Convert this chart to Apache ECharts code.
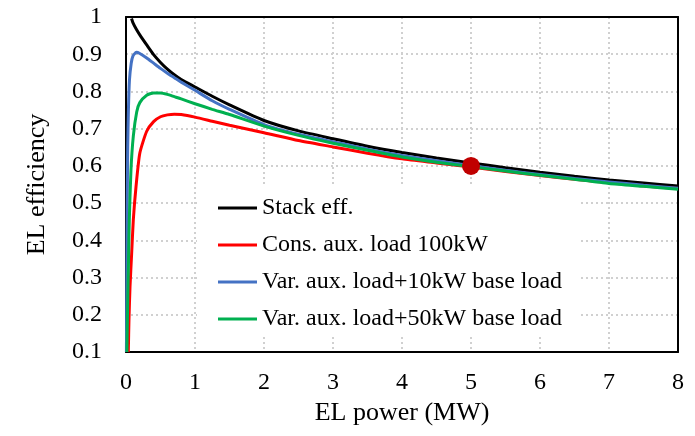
<!DOCTYPE html>
<html>
<head>
<meta charset="utf-8">
<script src="https://cdn.jsdelivr.net/npm/echarts@6/dist/echarts.min.js"></script>
<style>
  html, body { margin: 0; padding: 0; background: #fff; }
  #chart { width: 695px; height: 436px; }
</style>
</head>
<body>
<div id="chart"></div>
<script>
// Electrolyser efficiency versus electrical power (MW)
const seriesNames = [
  'Stack eff.',
  'Cons. aux. load 100kW',
  'Var. aux. load+10kW base load',
  'Var. aux. load+50kW base load'
];

// Stack efficiency
const stackP   = [0.08, 0.1, 0.15, 0.2, 0.3, 0.4, 0.5, 0.6, 0.7, 0.8, 1, 1.25, 1.5, 2, 2.5, 3, 3.5, 4, 4.5, 5, 5.5, 6, 6.5, 7, 7.5, 8];
const stackEff = [0.996, 0.985, 0.967, 0.952, 0.925, 0.899, 0.878, 0.86, 0.845, 0.832, 0.812, 0.787, 0.764, 0.722, 0.694, 0.673, 0.653, 0.636, 0.621, 0.608, 0.595, 0.583, 0.572, 0.562, 0.554, 0.546];

// Constant auxiliary load of 100 kW
const consP   = [0.032, 0.034, 0.043, 0.058, 0.082, 0.106, 0.145, 0.2, 0.3, 0.4, 0.5, 0.6, 0.7, 0.8, 1, 1.25, 1.5, 2, 2.5, 3, 3.5, 4, 4.5, 5, 5.5, 6, 6.5, 7, 7.5, 8];
const consEff = [0.1, 0.105, 0.186, 0.275, 0.365, 0.455, 0.544, 0.634, 0.693, 0.719, 0.732, 0.737, 0.739, 0.738, 0.731, 0.72, 0.709, 0.689, 0.668, 0.651, 0.634, 0.619, 0.608, 0.597, 0.585, 0.574, 0.564, 0.555, 0.546, 0.539];

// Variable auxiliary load + 10 kW base load
const var10P   = [0.006, 0.012, 0.018, 0.025, 0.035, 0.05, 0.075, 0.1, 0.15, 0.2, 0.3, 0.4, 0.5, 0.6, 0.7, 0.8, 1, 1.25, 1.5, 2, 2.5, 3, 3.5, 4, 4.5, 5, 5.5, 6, 6.5, 7, 7.5, 8];
const var10Eff = [0.1, 0.3, 0.5, 0.65, 0.75, 0.83, 0.875, 0.895, 0.905, 0.902, 0.89, 0.876, 0.862, 0.849, 0.837, 0.825, 0.803, 0.775, 0.752, 0.711, 0.685, 0.665, 0.645, 0.628, 0.614, 0.601, 0.588, 0.577, 0.566, 0.557, 0.548, 0.54];

// Variable auxiliary load + 50 kW base load
const var50P   = [0.013, 0.02, 0.034, 0.048, 0.072, 0.106, 0.155, 0.2, 0.3, 0.4, 0.5, 0.6, 0.7, 0.8, 1, 1.25, 1.5, 2, 2.5, 3, 3.5, 4, 4.5, 5, 5.5, 6, 6.5, 7, 7.5, 8];
const var50Eff = [0.1, 0.186, 0.32, 0.455, 0.589, 0.68, 0.745, 0.77, 0.79, 0.796, 0.796, 0.792, 0.786, 0.78, 0.767, 0.752, 0.738, 0.707, 0.682, 0.661, 0.642, 0.624, 0.61, 0.598, 0.586, 0.575, 0.564, 0.553, 0.545, 0.537];

// Highlighted operating point
const markerP = [5];
const markerEff = [0.6];

const colors = ['#000000', '#FF0000', '#4472C4', '#00B050'];
const FONT = '"Liberation Serif", "Times New Roman", serif';

const zip = (xs, ys) => xs.map((x, i) => [x, ys[i]]);
const curves = [
  zip(stackP, stackEff),
  zip(consP, consEff),
  zip(var10P, var10Eff),
  zip(var50P, var50Eff)
];

const chart = echarts.init(document.getElementById('chart'), null, { renderer: 'canvas' });

const lineSeries = curves.map((data, i) => ({
  name: seriesNames[i],
  type: 'line',
  data: data,
  showSymbol: false,
  smooth: 0.2,
  lineStyle: { color: colors[i], width: 3 },
  itemStyle: { color: colors[i] },
  z: 2 + i,
  animation: false
}));

const gridLine = { show: true, lineStyle: { color: '#d0d0d0', width: 2, type: [2, 3] } };
const frameLine = { show: true, onZero: false, lineStyle: { color: '#000', width: 2 } };

chart.setOption({
  animation: false,
  grid: { left: 126, right: 17, top: 17, bottom: 84 },
  legend: {
    data: seriesNames,
    orient: 'vertical',
    left: 197, top: 185,
    padding: [9, 17, 4, 21],
    backgroundColor: '#ffffff',
    itemGap: 9,
    itemWidth: 39,
    itemHeight: 3,
    icon: 'rect',
    textStyle: { fontFamily: FONT, fontSize: 24, color: '#000', lineHeight: 28 },
    selectedMode: false,
    z: 10
  },
  xAxis: [{
    type: 'value',
    min: 0, max: 8, interval: 1,
    name: 'EL power (MW)',
    nameLocation: 'middle',
    nameGap: 44,
    nameTextStyle: { fontFamily: FONT, fontSize: 26, color: '#000' },
    axisLine: frameLine,
    axisTick: { show: false },
    axisLabel: { fontFamily: FONT, fontSize: 24, color: '#000', margin: 19 },
    splitLine: gridLine
  }, {
    // top frame edge
    type: 'value', position: 'top',
    min: 0, max: 8, interval: 1,
    axisLine: frameLine,
    axisTick: { show: false },
    axisLabel: { show: false },
    splitLine: { show: false }
  }],
  yAxis: [{
    type: 'value',
    min: 0.1, max: 1, interval: 0.1,
    name: 'EL efficiency',
    nameLocation: 'middle',
    nameGap: 76,
    nameTextStyle: { fontFamily: FONT, fontSize: 26, color: '#000' },
    axisLine: frameLine,
    axisTick: { show: false },
    axisLabel: {
      fontFamily: FONT, fontSize: 24, color: '#000', margin: 24,
      formatter: v => String(+v.toFixed(1))
    },
    splitLine: gridLine
  }, {
    // right frame edge
    type: 'value', position: 'right',
    min: 0.1, max: 1, interval: 0.1,
    axisLine: frameLine,
    axisTick: { show: false },
    axisLabel: { show: false },
    splitLine: { show: false }
  }],
  series: lineSeries.concat([{
    name: 'Operating point',
    type: 'scatter',
    data: zip(markerP, markerEff),
    symbol: 'circle',
    symbolSize: 18,
    itemStyle: { color: '#C00000', opacity: 1 },
    z: 20,
    animation: false
  }])
});
</script>
</body>
</html>
